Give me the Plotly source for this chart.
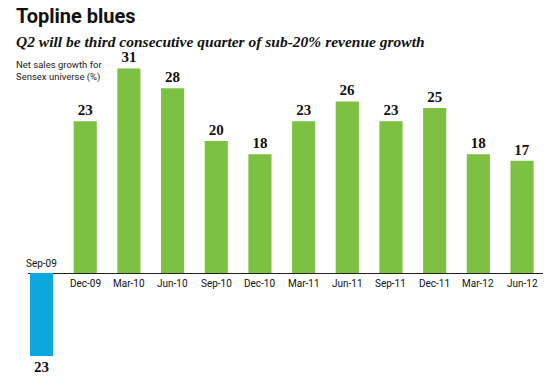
import plotly.graph_objects as go

categories = ["Sep-09", "Dec-09", "Mar-10", "Jun-10", "Sep-10", "Dec-10", "Mar-11",
              "Jun-11", "Sep-11", "Dec-11", "Mar-12", "Jun-12"]
growth = [-23, 23, 31, 28, 20, 18, 23, 26, 23, 25, 18, 17]

GREEN = "#7DC142"
BLUE = "#0AA8DC"

neg_x = [c for c, v in zip(categories, growth) if v < 0]
neg_y = [v for v in growth if v < 0]
pos_x = [c for c, v in zip(categories, growth) if v >= 0]
pos_y = [v for v in growth if v >= 0]

num_font = dict(family="Liberation Serif, DejaVu Serif, serif", size=15, color="#111111")
narrow = "Roboto, Liberation Sans, sans-serif"

fig = go.Figure()
fig.add_trace(go.Bar(
    x=pos_x, y=pos_y, marker=dict(color=GREEN, line=dict(width=0)),
    text=[f"<b>{v}</b>" for v in pos_y], textposition="outside",
    textfont=num_font, cliponaxis=False, width=0.53, yaxis="y", hoverinfo="skip",
))
fig.add_trace(go.Bar(
    x=neg_x, y=neg_y, marker=dict(color=BLUE, line=dict(width=0)),
    text=[f"<b>{abs(v)}</b>" for v in neg_y], textposition="outside",
    textfont=num_font, cliponaxis=False, width=0.53, yaxis="y2", hoverinfo="skip",
))

cat_font = dict(family=narrow, size=10, color="#111111")
for c, v in zip(categories, growth):
    fig.add_annotation(x=c, y=0, yref="y", text=c, showarrow=False, font=cat_font,
                       yshift=(-10 if v >= 0 else 10))

# title, subtitle and axis note
fig.add_annotation(xref="paper", yref="paper", x=-0.0272, y=1.134, xanchor="left", yanchor="middle",
                   text="<b>Topline blues</b>", showarrow=False,
                   font=dict(family=narrow, size=20, color="#111111"))
fig.add_annotation(xref="paper", yref="paper", x=-0.0272, y=1.055, xanchor="left", yanchor="middle",
                   text="<b><i>Q2 will be third consecutive quarter of sub-20% revenue growth</i></b>",
                   showarrow=False,
                   font=dict(family="Liberation Serif, DejaVu Serif, serif", size=15.5, color="#111111"))
fig.add_annotation(xref="paper", yref="paper", x=-0.0272, y=0.967, xanchor="left", yanchor="middle",
                   text="Net sales growth for<br>Sensex universe (%)", showarrow=False, align="left",
                   font=dict(family=narrow, size=9.5, color="#222222"))

fig.update_layout(
    width=550, height=388,
    margin=dict(l=28, r=7, t=60, b=0, pad=0),
    paper_bgcolor="white", plot_bgcolor="white",
    showlegend=False, barmode="overlay",
    xaxis=dict(categoryorder="array", categoryarray=categories, range=[-0.31, 11.48],
               showticklabels=False, showgrid=False, zeroline=False, showline=False, ticks=""),
    yaxis=dict(range=[-17.42, 32.27], showticklabels=False, showgrid=False,
               zeroline=True, zerolinecolor="#222222", zerolinewidth=1.2, showline=False),
    yaxis2=dict(range=[-31.86, 59.0], overlaying="y", showticklabels=False, showgrid=False,
                zeroline=False, showline=False),
)

fig.write_html("out.html", config={"displayModeBar": False},
               post_script="document.body.style.margin='0';document.body.style.overflow='hidden';")
